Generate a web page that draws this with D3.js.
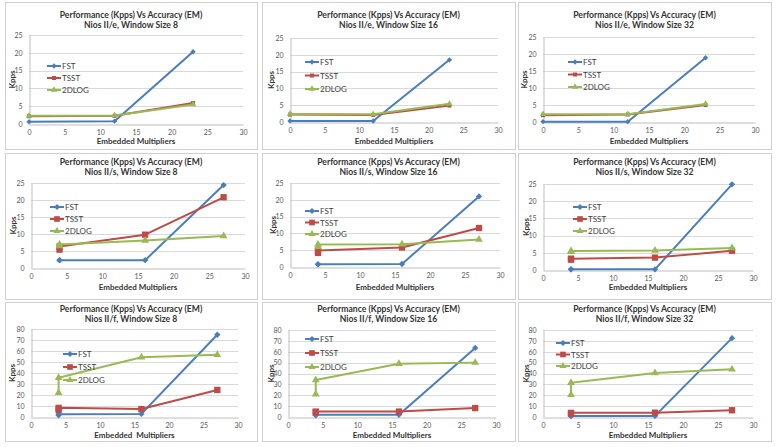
<!DOCTYPE html>
<html><head><meta charset="utf-8">
<script src="https://cdn.jsdelivr.net/npm/d3@7"></script>
<style>
body{margin:0;background:#fff;}
svg{display:block;font-family:Lato,"Liberation Sans",sans-serif;}
</style></head><body>
<svg id="c" width="776" height="447"></svg>
<script>
// ---------- DATA ----------
const seriesNames = ["FST", "TSST", "2DLOG"];
const xTicks = [0, 5, 10, 15, 20, 25, 30];
const yTicksSmall = [0, 5, 10, 15, 20, 25];
const yTicksLarge = [0, 10, 20, 30, 40, 50, 60, 70, 80];

const titleLine1 = "Performance (Kpps) Vs Accuracy (EM)";
const xTitle = "Embedded Multipliers";
const xTitleWide = "Embedded  Multipliers";
const yTitle = "Kpps";

// Nios II/e  (x = embedded multipliers)
const xE = [0, 12, 23];
const fstE8 = [0.6, 0.8, 20.3];
const tsstE8 = [2.2, 2.3, 5.9];
const dlogE8 = [2.3, 2.4, 5.5];
const fstE16 = [0.3, 0.3, 18.5];
const tsstE16 = [2.2, 2.1, 4.9];
const dlogE16 = [2.4, 2.3, 5.4];
const fstE32 = [0.1, 0.1, 18.9];
const tsstE32 = [2.0, 2.2, 5.0];
const dlogE32 = [2.3, 2.3, 5.3];

// Nios II/s
const xS = [4, 4, 16, 27];
const fstS8 = [2.3, 2.3, 2.3, 24.4];
const tsstS8 = [5.4, 6.3, 9.8, 20.8];
const dlogS8 = [6.5, 6.9, 8.1, 9.4];
const fstS16 = [0.8, 0.8, 0.9, 21.0];
const tsstS16 = [4.2, 4.9, 5.8, 11.6];
const dlogS16 = [6.0, 6.7, 6.8, 8.2];
const fstS32 = [0.2, 0.2, 0.2, 24.9];
const tsstS32 = [3.0, 3.3, 3.6, 5.6];
const dlogS32 = [5.3, 5.5, 5.7, 6.4];

// Nios II/f
const xF = [4, 4, 16, 27];
const fstF8 = [1.5, 2.5, 2.8, 74.8];
const tsstF8 = [6.5, 8.3, 7.2, 24.6];
const dlogF8 = [22.0, 35.7, 54.3, 56.6];
const fstF16 = [1.5, 2.0, 2.0, 63.5];
const tsstF16 = [4.2, 5.0, 5.0, 8.2];
const dlogF16 = [21.0, 34.0, 49.0, 50.0];
const fstF32 = [0.8, 1.0, 1.0, 72.5];
const tsstF32 = [3.0, 3.8, 4.0, 6.2];
const dlogF32 = [20.5, 31.5, 40.5, 43.8];

const panels = [
  {sub:"Nios II/e, Window Size 8",  x:xE, s:[fstE8,tsstE8,dlogE8],   ymax:25, ticks:yTicksSmall, xt:xTitle},
  {sub:"Nios II/e, Window Size 16", x:xE, s:[fstE16,tsstE16,dlogE16], ymax:25, ticks:yTicksSmall, xt:xTitle},
  {sub:"Nios II/e, Window Size 32", x:xE, s:[fstE32,tsstE32,dlogE32], ymax:25, ticks:yTicksSmall, xt:xTitle},
  {sub:"Nios II/s, Window Size 8",  x:xS, s:[fstS8,tsstS8,dlogS8],   ymax:25, ticks:yTicksSmall, xt:xTitle},
  {sub:"Nios II/s, Window Size 16", x:xS, s:[fstS16,tsstS16,dlogS16], ymax:25, ticks:yTicksSmall, xt:xTitle},
  {sub:"Nios II/s, Window Size 32", x:xS, s:[fstS32,tsstS32,dlogS32], ymax:25, ticks:yTicksSmall, xt:xTitle},
  {sub:"Nios II/f, Window Size 8",  x:xF, s:[fstF8,tsstF8,dlogF8],   ymax:80, ticks:yTicksLarge, xt:xTitleWide},
  {sub:"Nios II/f, Window Size 16", x:xF, s:[fstF16,tsstF16,dlogF16], ymax:80, ticks:yTicksLarge, xt:xTitle},
  {sub:"Nios II/f, Window Size 32", x:xF, s:[fstF32,tsstF32,dlogF32], ymax:80, ticks:yTicksLarge, xt:xTitle}
];

// ---------- LAYOUT ----------
const colX = [5, 262, 518], colW = [252, 253, 253];
const rowY = [2, 153, 302], rowH = [147, 146, 139];
const titleOff = [[15.5, 26], [11.5, 22], [9.5, 20]];
const xLabY = [144, 290, 438];
// plot rects: [xLeft, xRight, yTop, yBottom]
const rects = [
  [29,243,35,124],[290,498,38,122],[543,755,37,122],
  [31,245,183,268],[290,500,183,267],[543,753,184,270],
  [31,238,329,417],[288,496,330,417],[543,753,330,417]
];
const yLabX = [12,271,524, 13,273,526, 12,271,526];
// legend: [x, yFirst, spacing]
const legends = [
  [47,66,12],[305,62,13.5],[568,62,12.5],
  [50,207,12],[305,211,11.5],[573,207,12],
  [63,354,13],[305,339,14],[556,343,11.5]
];
const colors = ["#4A7EBB", "#BE4B48", "#98B954"];
const symbols = [d3.symbolSquare, d3.symbolSquare, d3.symbolTriangle];
const rotations = [45, 0, 0];

const svg = d3.select("#c");

panels.forEach((p, i) => {
  const r = Math.floor(i / 3), c = i % 3;
  const g = svg.append("g");
  g.append("rect").attr("x", colX[c] + 0.5).attr("y", rowY[r] + 0.5)
    .attr("width", colW[c]).attr("height", rowH[r])
    .attr("fill", "#fff").attr("stroke", "#d0d0d0").attr("stroke-width", 1);

  const [xl, xr, yt, yb] = rects[i];
  const x = d3.scaleLinear().domain([0, 30]).range([xl, xr]);
  const y = d3.scaleLinear().domain([0, p.ymax]).range([yb, yt]);

  // gridlines
  g.append("g").selectAll("line").data(p.ticks.filter(t => t > 0)).join("line")
    .attr("x1", xl).attr("x2", xr)
    .attr("y1", d => Math.round(y(d)) + 0.5).attr("y2", d => Math.round(y(d)) + 0.5)
    .attr("stroke", "#d9d9d9").attr("stroke-width", 1);

  // axes
  const xa = g.append("g").attr("transform", `translate(0,${Math.round(yb) + 0.5})`)
    .call(d3.axisBottom(x).tickValues(xTicks).tickSize(0).tickPadding(6));
  const ya = g.append("g").attr("transform", `translate(${Math.round(xl) + 0.5},0)`)
    .call(d3.axisLeft(y).tickValues(p.ticks).tickSize(0).tickPadding(7));
  [xa, ya].forEach(a => {
    a.select(".domain").attr("stroke", "#bfbfbf");
    a.selectAll("text").attr("fill", "#595959").attr("font-size", 7).attr("font-family", "Lato");
  });

  // lines + markers
  p.s.forEach((vals, k) => {
    const pts = vals.map((v, j) => [p.x[j], v]);
    g.append("path").datum(pts)
      .attr("d", d3.line().x(d => x(d[0])).y(d => y(d[1])))
      .attr("fill", "none").attr("stroke", colors[k]).attr("stroke-width", 2)
      .attr("stroke-linejoin", "round");
    const sz = r === 0 ? [14, 16, 18][k] : [20, 40, 26][k];
    g.append("g").selectAll("path").data(pts).join("path")
      .attr("transform", d => `translate(${x(d[0])},${y(d[1])}) rotate(${rotations[k]})`)
      .attr("d", d3.symbol().type(symbols[k]).size(sz))
      .attr("fill", colors[k]);
  });

  // titles
  const cx = colX[c] + colW[c] / 2;
  g.append("text").attr("x", cx).attr("y", rowY[r] + titleOff[r][0])
    .attr("text-anchor", "middle").attr("font-size", 8.6).attr("font-weight", "bold")
    .attr("fill", "#333").text(titleLine1);
  g.append("text").attr("x", cx).attr("y", rowY[r] + titleOff[r][1])
    .attr("text-anchor", "middle").attr("font-size", 8.6).attr("font-weight", "bold")
    .attr("fill", "#333").text(p.sub);
  g.append("text").attr("x", (xl + xr) / 2).attr("y", xLabY[r])
    .attr("text-anchor", "middle").attr("font-size", 8).attr("font-weight", "bold")
    .attr("fill", "#333").style("white-space", "pre").text(p.xt);
  g.append("text").attr("transform", `translate(${yLabX[i] + 3},${(yt + yb) / 2}) rotate(-90)`)
    .attr("text-anchor", "middle").attr("font-size", 8).attr("font-weight", "bold")
    .attr("fill", "#333").text(yTitle);

  // legend
  const [lx, ly, ls] = legends[i];
  seriesNames.forEach((nm, k) => {
    const yy = ly + k * ls;
    g.append("line").attr("x1", lx).attr("x2", lx + 14).attr("y1", yy).attr("y2", yy)
      .attr("stroke", colors[k]).attr("stroke-width", 2);
    g.append("path").attr("transform", `translate(${lx + 7},${yy}) rotate(${rotations[k]})`)
      .attr("d", d3.symbol().type(symbols[k]).size(r === 0 ? [14, 16, 18][k] : [18, 32, 22][k]))
      .attr("fill", colors[k]);
    g.append("text").attr("x", lx + 15).attr("y", yy + 3)
      .attr("font-size", 8).attr("fill", "#404040").text(nm);
  });
});
</script>
</body></html>
